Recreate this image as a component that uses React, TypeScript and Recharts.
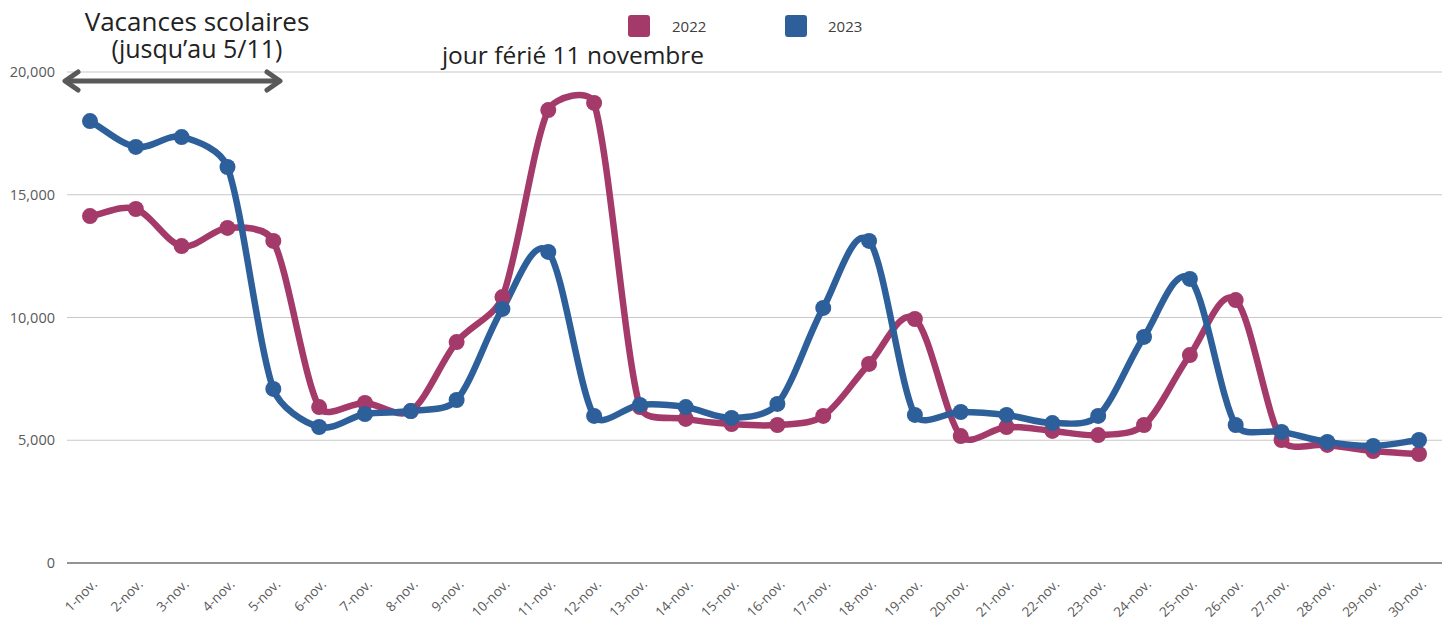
import { LineChart, Line, XAxis, YAxis, CartesianGrid } from "recharts";

const days = [
  "1-nov.", "2-nov.", "3-nov.", "4-nov.", "5-nov.", "6-nov.", "7-nov.", "8-nov.", "9-nov.", "10-nov.",
  "11-nov.", "12-nov.", "13-nov.", "14-nov.", "15-nov.", "16-nov.", "17-nov.", "18-nov.", "19-nov.", "20-nov.",
  "21-nov.", "22-nov.", "23-nov.", "24-nov.", "25-nov.", "26-nov.", "27-nov.", "28-nov.", "29-nov.", "30-nov.",
];

const values2022 = [
  14130, 14420, 12910, 13650, 13120, 6350, 6520, 6190, 9000, 10830,
  18450, 18740, 6350, 5870, 5660, 5620, 5990, 8110, 9940, 5170,
  5540, 5380, 5210, 5620, 8470, 10710, 5010, 4810, 4560, 4440,
];

const values2023 = [
  18000, 16950, 17350, 16130, 7090, 5540, 6070, 6190, 6640, 10350,
  12670, 5990, 6440, 6350, 5910, 6480, 10390, 13120, 6030, 6150,
  6030, 5700, 5990, 9210, 11570, 5620, 5340, 4930, 4770, 5010,
];

const yTicks = [0, 5000, 10000, 15000, 20000];

const COLOR_2022 = "#A43A6A";
const COLOR_2023 = "#2D5F9B";

const data = days.map((day, i) => ({
  day,
  y2022: values2022[i],
  y2023: values2023[i],
}));

const dist = (a: number[], b: number[]) => Math.hypot(b[0] - a[0], b[1] - a[1]);

// smoothed line, catmull-rom tangents with the handle length capped
// (so peaks don't shoot far past the points)
const smoothCurve = (context: any) => {
  let pts: number[][] = [];
  return {
    areaStart() {},
    areaEnd() {},
    lineStart() {
      pts = [];
    },
    point(x: number, y: number) {
      pts.push([+x, +y]);
    },
    lineEnd() {
      const n = pts.length;
      if (!n) return;
      context.moveTo(pts[0][0], pts[0][1]);
      for (let i = 0; i < n - 1; i++) {
        const p1 = pts[i];
        const p2 = pts[i + 1];
        const first = i === 0;
        const last = i === n - 2;
        const p0 = first ? p1 : pts[i - 1];
        const p3 = last ? p2 : pts[i + 2];
        const d12 = dist(p1, p2);
        const d02 = dist(p0, p2);
        const d13 = dist(p1, p3);
        const cap = d12 / 3;
        let f1 = first ? 1 / 3 : 1 / 6;
        let f2 = last ? 1 / 3 : 1 / 6;
        if (d02 * f1 > cap) f1 = cap / d02;
        if (d13 * f2 > cap) f2 = cap / d13;
        context.bezierCurveTo(
          p1[0] + (p2[0] - p0[0]) * f1,
          p1[1] + (p2[1] - p0[1]) * f1,
          p2[0] - (p3[0] - p1[0]) * f2,
          p2[1] - (p3[1] - p1[1]) * f2,
          p2[0],
          p2[1]
        );
      }
    },
  };
};

const font = "'Open Sans', sans-serif";

function DayTick({ x, y, payload }: any) {
  return (
    <text
      transform={`translate(${x + 8}, ${y + 22}) rotate(-45)`}
      textAnchor="end"
      fontSize={13.5}
      fill="#595959"
      fontFamily={font}
    >
      {payload.value}
    </text>
  );
}

export default function App() {
  return (
    <div style={{ position: "absolute", left: 0, top: 0, width: 1450, height: 619, background: "#fff" }}>
      <LineChart
        width={1450}
        height={619}
        data={data}
        margin={{ top: 72, right: 8, left: 0, bottom: 0 }}
      >
        <CartesianGrid vertical={false} stroke="#c8c8c8" strokeWidth={1.2} />
        <XAxis
          dataKey="day"
          height={56}
          padding={{ left: 23, right: 23 }}
          tick={<DayTick />}
          tickLine={false}
          tickSize={0}
          tickMargin={0}
          interval={0}
          axisLine={{ stroke: "#7a7a7a", strokeWidth: 1.6 }}
        />
        <YAxis
          width={67}
          domain={[0, 20000]}
          ticks={yTicks}
          tickFormatter={(v: number) => v.toLocaleString("en-US")}
          axisLine={false}
          tickLine={false}
          tickSize={0}
          tickMargin={12}
          tick={{ fontSize: 14.5, fill: "#595959", fontFamily: font }}
        />
        <Line
          dataKey="y2022"
          type={smoothCurve as any}
          stroke={COLOR_2022}
          strokeWidth={6.5}
          dot={{ r: 8, fill: COLOR_2022, stroke: "none" }}
          isAnimationActive={false}
        />
        <Line
          dataKey="y2023"
          type={smoothCurve as any}
          stroke={COLOR_2023}
          strokeWidth={6.5}
          dot={{ r: 8, fill: COLOR_2023, stroke: "none" }}
          isAnimationActive={false}
        />
      </LineChart>

      {/* legend */}
      <div style={{ position: "absolute", top: 15, left: 628, display: "flex", alignItems: "center", fontFamily: font, fontSize: 15, color: "#404040" }}>
        <span style={{ width: 22, height: 22, borderRadius: 3, background: COLOR_2022, display: "inline-block" }} />
        <span style={{ marginLeft: 22, width: 113 }}>2022</span>
        <span style={{ width: 22, height: 22, borderRadius: 3, background: COLOR_2023, display: "inline-block" }} />
        <span style={{ marginLeft: 21 }}>2023</span>
      </div>

      {/* annotations */}
      <div style={{ position: "absolute", left: 47, top: 8, width: 300, textAlign: "center", fontFamily: font, fontSize: 26, lineHeight: "27px", color: "#222" }}>
        Vacances scolaires
      </div>
      <div style={{ position: "absolute", left: 47, top: 35, width: 300, textAlign: "center", fontFamily: font, fontSize: 25, lineHeight: "27px", color: "#222" }}>
        (jusqu’au 5/11)
      </div>
      <div style={{ position: "absolute", left: 410, top: 41, width: 326, textAlign: "center", fontFamily: font, fontSize: 24.5, lineHeight: "27px", color: "#222" }}>
        jour férié 11 novembre
      </div>
      <svg style={{ position: "absolute", left: 0, top: 0 }} width={320} height={100}>
        <g stroke="#595959" strokeWidth={5} strokeLinecap="round" strokeLinejoin="round" fill="none">
          <line x1={66} y1={81} x2={279} y2={81} />
          <polyline points="78,72 65,81 78,90" />
          <polyline points="267,72 280,81 267,90" />
        </g>
      </svg>
    </div>
  );
}
